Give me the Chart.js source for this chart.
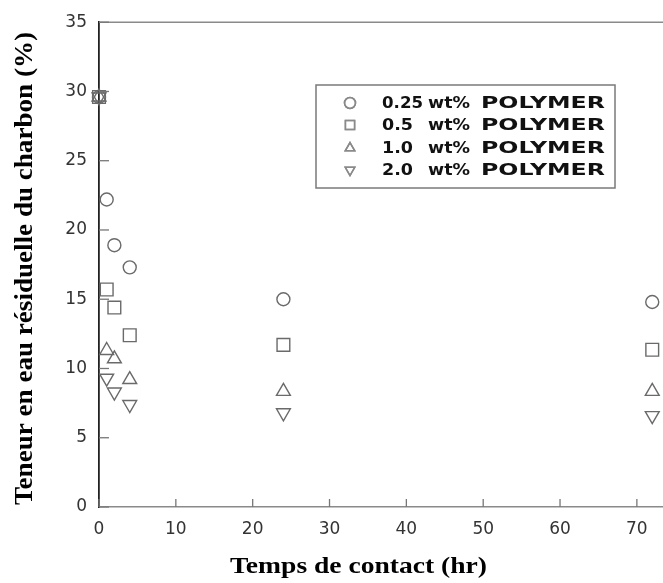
<!DOCTYPE html>
<html>
<head>
<meta charset="utf-8">
<script src="https://cdn.jsdelivr.net/npm/chart.js@4"></script>
<style>
  html, body { margin: 0; padding: 0; background: #fff; }
  #wrap { width: 663px; height: 583px; }
</style>
</head>
<body>
<div id="wrap"><canvas id="chart" width="663" height="583"></canvas></div>
<script>
// contact time (hr)
const times = [0, 1, 2, 4, 24, 72];
// residual water content (%) per polymer dose
const polymer025 = [29.6, 22.2, 18.9, 17.3, 15.0, 14.8];
const polymer05 = [29.6, 15.7, 14.4, 12.4, 11.7, 11.35];
const polymer10 = [29.6, 11.3, 10.7, 9.2, 8.35, 8.35];
const polymer20 = [29.6, 9.3, 8.3, 7.4, 6.8, 6.6];

const xTicks = [0, 10, 20, 30, 40, 50, 60, 70];
const yTicks = [0, 5, 10, 15, 20, 25, 30, 35];

const legendLabels = [
  ["0.25", "wt%", "POLYMER"],
  ["0.5", "wt%", "POLYMER"],
  ["1.0", "wt%", "POLYMER"],
  ["2.0", "wt%", "POLYMER"],
];
const xTitle = "Temps de contact (hr)";
const yTitle = "Teneur en eau résiduelle du charbon (%)";

const pts = (ys) => times.map((t, i) => ({ x: t, y: ys[i] }));
const markerColor = "#6a6a6a";

function series(label, ys, style, radius, rotation) {
  return {
    label,
    data: pts(ys),
    pointStyle: style,
    pointRadius: radius,
    pointHoverRadius: radius,
    pointRotation: rotation || 0,
    pointBorderColor: markerColor,
    pointBackgroundColor: "rgba(0,0,0,0)",
    pointBorderWidth: 1.4,
    showLine: false,
    clip: false,
  };
}

// draw text squeezed/stretched to a given width
function fitText(ctx, text, x, y, width) {
  const w = ctx.measureText(text).width;
  ctx.save();
  ctx.translate(x, y);
  ctx.scale(width / w, 1);
  ctx.fillText(text, 0, 0);
  ctx.restore();
}

const decor = {
  id: "decor",
  afterDraw(chart) {
    const { ctx, chartArea: a, scales } = chart;
    ctx.save();
    // top frame line
    ctx.strokeStyle = "#8a8a8a";
    ctx.lineWidth = 1.5;
    ctx.beginPath();
    ctx.moveTo(a.left, a.top);
    ctx.lineTo(a.right, a.top);
    ctx.stroke();
    // inward ticks
    ctx.strokeStyle = "#777";
    ctx.lineWidth = 1.3;
    scales.y.ticks.forEach((t) => {
      const py = scales.y.getPixelForValue(t.value);
      ctx.beginPath();
      ctx.moveTo(a.left, py);
      ctx.lineTo(a.left + 10, py);
      ctx.stroke();
    });
    scales.x.ticks.forEach((t) => {
      const px = scales.x.getPixelForValue(t.value);
      ctx.beginPath();
      ctx.moveTo(px, a.bottom);
      ctx.lineTo(px, a.bottom - 8);
      ctx.stroke();
    });

    // legend box
    ctx.strokeStyle = "#7a7a7a";
    ctx.lineWidth = 1.5;
    ctx.strokeRect(316, 85, 299, 103);
    const rows = [103, 125, 148, 170];
    chart.data.datasets.forEach((ds, i) => {
      Chart.helpers.drawPoint(
        ctx,
        {
          pointStyle: ds.pointStyle,
          rotation: ds.pointRotation,
          radius: ds.pointStyle === "rect" ? 6.5 : 5.5,
          borderWidth: 1.2,
        },
        350,
        rows[i]
      );
      ctx.strokeStyle = "#8a8a8a";
      ctx.stroke();
    });
    ctx.fillStyle = "#111";
    ctx.font = "bold 15px 'DejaVu Sans', sans-serif";
    ctx.textBaseline = "middle";
    ctx.textAlign = "left";
    legendLabels.forEach((parts, i) => {
      const y = rows[i] + 1;
      fitText(ctx, parts[0], 382, y, parts[0].length === 4 ? 41 : 31);
      fitText(ctx, parts[1], 428, y, 42);
      fitText(ctx, parts[2], 481, y, 124);
    });

    // axis titles
    ctx.fillStyle = "#000";
    ctx.font = "bold 24px 'Liberation Serif', 'Times New Roman', serif";
    ctx.textBaseline = "alphabetic";
    ctx.textAlign = "left";
    fitText(ctx, xTitle, 230, 573, 257);
    ctx.save();
    ctx.translate(32, 505);
    ctx.rotate(-Math.PI / 2);
    ctx.font = "bold 25px 'Liberation Serif', 'Times New Roman', serif";
    fitText(ctx, yTitle, 0, 0, 473);
    ctx.restore();
    ctx.restore();
  },
};

const tickFont = { family: "'DejaVu Sans', sans-serif", size: 17 };

new Chart(document.getElementById("chart"), {
  type: "scatter",
  data: {
    datasets: [
      series("0.25 wt% POLYMER", polymer025, "circle", 6.5),
      series("0.5 wt% POLYMER", polymer05, "rect", 9),
      series("1.0 wt% POLYMER", polymer10, "triangle", 8),
      series("2.0 wt% POLYMER", polymer20, "triangle", 8, 180),
    ],
  },
  options: {
    responsive: false,
    animation: false,
    events: [],
    layout: {
      autoPadding: false,
      padding: { top: 20, right: 0, left: 0, bottom: 0 },
    },
    plugins: { legend: { display: false }, tooltip: { enabled: false } },
    scales: {
      x: {
        type: "linear",
        min: 0,
        max: 73.4,
        grid: { display: false, drawTicks: false },
        border: { display: true, color: "#8a8a8a", width: 1.5 },
        afterBuildTicks: (s) => {
          s.ticks = xTicks.map((v) => ({ value: v }));
        },
        afterFit: (s) => {
          s.height = 76;
          s.paddingLeft = 0;
          s.paddingRight = 0;
        },
        ticks: {
          padding: 12,
          color: "#333",
          font: tickFont,
          maxRotation: 0,
          autoSkip: false,
        },
      },
      y: {
        type: "linear",
        min: 0,
        max: 35,
        grid: { display: false, drawTicks: false },
        border: { display: true, color: "#222", width: 1.8 },
        afterBuildTicks: (s) => {
          s.ticks = yTicks.map((v) => ({ value: v }));
        },
        afterFit: (s) => {
          s.width = 99;
        },
        ticks: {
          padding: 12,
          color: "#333",
          font: tickFont,
          autoSkip: false,
        },
      },
    },
  },
  plugins: [decor],
});
</script>
</body>
</html>
